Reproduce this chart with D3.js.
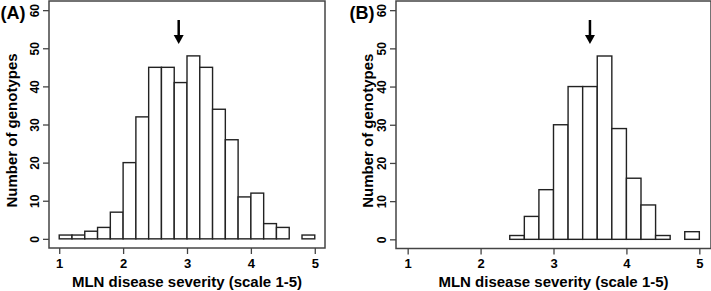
<!DOCTYPE html>
<html><head><meta charset="utf-8">
<script src="https://cdn.jsdelivr.net/npm/d3@7"></script>
<style>body{margin:0;background:#fff}svg{display:block}text{font-family:"Liberation Sans",Arial,sans-serif;font-weight:bold;fill:#000}</style>
</head><body><svg id="c" width="711" height="291"></svg>
<script>
const binStarts = [1.0,1.2,1.4,1.6,1.8,2.0,2.2,2.4,2.6,2.8,3.0,3.2,3.4,3.6,3.8,4.0,4.2,4.4,4.6,4.8];
const binWidth = 0.2;
const countsA = [1,1,2,3,7,20,32,45,45,41,48,45,34,26,11,12,4,3,0,1];
const countsB = [0,0,0,0,0,0,0,1,6,13,30,40,40,48,29,16,9,1,0,2];
const xTicks = [1,2,3,4,5];
const yTicks = [0,10,20,30,40,50,60];
const arrowA = 2.87, arrowB = 3.5;
const labels = ["(A)","(B)"];
const xTitle = "MLN disease severity (scale 1-5)";
const yTitle = "Number of genotypes";

const svg = d3.select("#c");
const panels = [
  {counts: countsA, arrow: arrowA, label: labels[0], x0: 49, x1: 325, y0: 248, y1: 1, labX: 13, ylabX: 12},
  {counts: countsB, arrow: arrowB, label: labels[1], x0: 396, x1: 711, y0: 248.5, y1: 1, labX: 362, ylabX: 368}
];
panels.forEach(p => {
  const g = svg.append("g");
  const x = d3.scaleLinear().domain([0.84, 5.16]).range([p.x0, p.x1]);
  const y = d3.scaleLinear().domain([-2.4, 62.4]).range([p.y0, p.y1]);
  g.selectAll("rect.bar").data(binStarts.map((s,i)=>({s, c:p.counts[i]})).filter(d=>d.c>0))
    .enter().append("rect")
    .attr("x", d=>x(d.s)).attr("width", d=>x(d.s+binWidth)-x(d.s))
    .attr("y", d=>y(d.c)).attr("height", d=>y(0)-y(d.c))
    .attr("fill","#fff").attr("stroke","#222").attr("stroke-width",1.4);
  g.append("rect").attr("x",p.x0).attr("y",p.y1).attr("width",p.x1-p.x0).attr("height",p.y0-p.y1)
    .attr("fill","none").attr("stroke","#444").attr("stroke-width",1.5);
  const xa = g.append("g").attr("transform",`translate(0,${p.y0})`)
    .call(d3.axisBottom(x).tickValues(xTicks).tickSize(6).tickSizeOuter(0).tickFormat(d3.format("d")));
  xa.select(".domain").remove();
  xa.selectAll("line").attr("stroke","#444").attr("stroke-width",1.3);
  xa.selectAll("text").attr("font-size",13).attr("dy","0.35em").attr("y",15);
  const ya = g.append("g").attr("transform",`translate(${p.x0},0)`)
    .call(d3.axisLeft(y).tickValues(yTicks).tickSize(6).tickSizeOuter(0));
  ya.select(".domain").remove();
  ya.selectAll("line").attr("stroke","#444").attr("stroke-width",1.3);
  ya.selectAll("text").attr("font-size",12).attr("x",null).attr("dy",null)
    .attr("text-anchor","middle")
    .attr("transform","translate(-14,0) rotate(-90)")
    .attr("y",0).attr("dy","0.35em");
  g.append("text").attr("x",(x(1)+x(5))/2).attr("y",287).attr("text-anchor","middle")
    .attr("font-size",15).text(xTitle);
  g.append("text").attr("transform",`translate(${p.ylabX},${(p.y0+p.y1)/2+6}) rotate(-90)`)
    .attr("text-anchor","middle").attr("dy","0.35em").attr("font-size",15).text(yTitle);
  g.append("text").attr("x",p.labX).attr("y",19).attr("text-anchor","middle")
    .attr("font-size",18).text(p.label);
  const ax = x(p.arrow);
  g.append("line").attr("x1",ax).attr("x2",ax).attr("y1",20).attr("y2",38)
    .attr("stroke","#000").attr("stroke-width",2.5);
  g.append("path").attr("d",`M${ax-5},35 L${ax+5},35 L${ax},44 Z`).attr("fill","#000");
});
</script></body></html>
